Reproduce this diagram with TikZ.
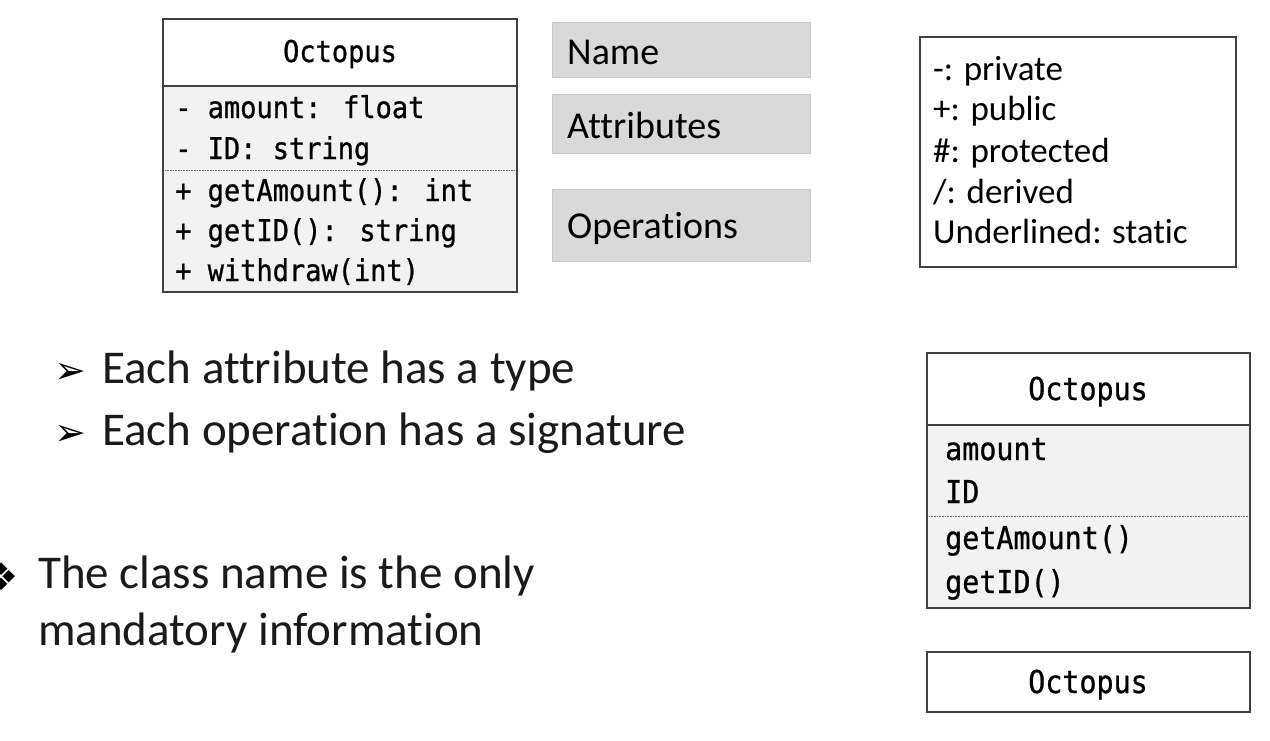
\documentclass[tikz,border=0pt]{standalone}
\usepackage{fontspec}
\setmainfont[Ligatures=NoCommon]{Carlito}
\newfontfamily\umlfont[FakeStretch=0.9, FakeBold=0.8]{DejaVu Sans Mono}
\newfontfamily\dingfont{DejaVu Sans}
\definecolor{umlline}{HTML}{404040}
\definecolor{umlfill}{HTML}{F2F2F2}
\definecolor{tagfill}{HTML}{D9D9D9}
\definecolor{tagline}{HTML}{C6C6C6}
\definecolor{slidetext}{HTML}{1A1A1A}
\tikzset{
  umlbox/.style={draw=umlline, line width=1.3pt},
  umlsep/.style={draw=umlline!80, line width=0.6pt, densely dotted},
  member/.style={anchor=base west, inner sep=0pt, font=\umlfont\fontsize{30}{30}\selectfont},
  smallmember/.style={member, font=\umlfont\fontsize{31.5}{31.5}\selectfont},
  classname/.style={anchor=base, inner sep=0pt},
  tag/.style={anchor=base west, inner sep=0pt, font=\fontsize{38}{38}\selectfont},
  legend/.style={anchor=base west, inner sep=0pt, font=\fontsize{35}{35}\selectfont},
  slide/.style={anchor=base west, inner sep=0pt, text=slidetext, font=\fontsize{47}{47}\selectfont},
  bullet/.style={inner sep=0pt, font=\dingfont\fontsize{38}{38}\selectfont}
}
\begin{document}
\begin{tikzpicture}[x=1pt, y=-1pt]
\useasboundingbox (0,0) rectangle (1270,740);

% full class
\fill[umlfill] (163,86) rectangle (517,292);
\draw[umlbox] (163,19) rectangle (517,292);
\draw[umlbox] (163,86) -- (517,86);
\draw[umlsep] (165,170) -- (515,170);
\node[member, anchor=base] (name1) at (340,62) {Octopus};
\node[member] (a1) at (175,118) {- amount: float};
\node[member] (a2) at (175,159) {- ID: string};
\node[member] (o1) at (175,201) {+ getAmount(): int};
\node[member] (o2) at (175,241) {+ getID(): string};
\node[member] (o3) at (175,281) {+ withdraw(int)};

% compartment tags
\draw[fill=tagfill, draw=tagline, line width=1pt] (552,22) rectangle (810,77);
\draw[fill=tagfill, draw=tagline, line width=1pt] (552,94) rectangle (810,153);
\draw[fill=tagfill, draw=tagline, line width=1pt] (552,189) rectangle (810,261);
\node[tag] (tname) at (567,64) {Name};
\node[tag] (tattr) at (567,138) {Attributes};
\node[tag] (tops) at (567,238) {Operations};

% visibility legend
\draw[umlbox] (920,37) rectangle (1236,267);
\node[legend] (l1) at (933,80) {-: private};
\node[legend] (l2) at (933,120) {+: public};
\node[legend] (l3) at (933,162) {\#: protected};
\node[legend] (l4) at (933,203) {/: derived};
\node[legend] (l5) at (933,243) {Underlined: static};

% bullets
\node[bullet, anchor=base west] (b1) at (54,383) {➢};
\node[slide] (s1) at (102,383) {Each attribute has a type};
\node[bullet, anchor=base west] (b2) at (54,445) {➢};
\node[slide] (s2) at (102,445) {Each operation has a signature};
\node[bullet] (b3) at (2,577) {❖};
\node[slide] (s3) at (38,588) {The class name is the only};
\node[slide] (s4) at (38,645) {mandatory information};

% short class
\fill[umlfill] (927,425) rectangle (1250,608);
\draw[umlbox] (927,353) rectangle (1250,608);
\draw[umlbox] (927,425) -- (1250,425);
\draw[umlsep] (929,516) -- (1248,516);
\node[smallmember, anchor=base] (name2) at (1088,400) {Octopus};
\node[smallmember] (a3) at (945,460) {amount};
\node[smallmember] (a4) at (945,503) {ID};
\node[smallmember] (o4) at (945,549) {getAmount()};
\node[smallmember] (o5) at (945,593) {getID()};

% name only
\draw[umlbox] (927,652) rectangle (1250,712);
\node[smallmember, anchor=base] (name3) at (1088,693) {Octopus};
\end{tikzpicture}
\end{document}
